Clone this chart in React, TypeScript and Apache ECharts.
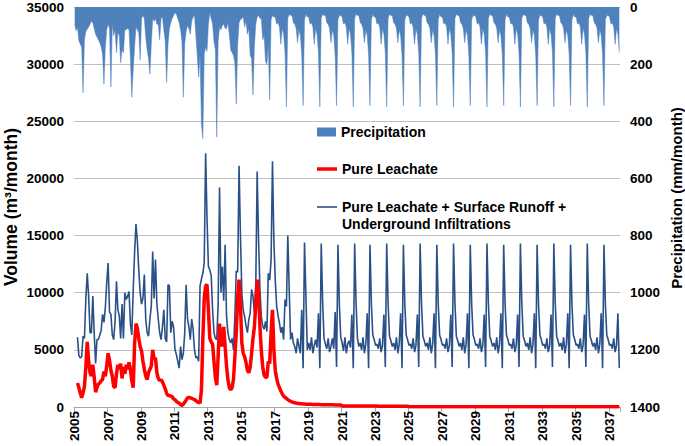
import React, { useEffect, useRef } from "react";
import * as echarts from "echarts";

// ---- categories: monthly, Jan 2005 .. Aug 2037 ----
const FIRST_YEAR = 2005;
const LAST_YEAR = 2037;
const LAST_MONTH = 8;
const months: string[] = [];
for (let y = FIRST_YEAR; y <= LAST_YEAR; y++) {
  for (let m = 1; m <= 12; m++) {
    if (y === LAST_YEAR && m > LAST_MONTH) break;
    months.push(`${y}-${m < 10 ? "0" + m : m}`);
  }
}

const TOTAL_NAME = "Pure Leachate + Surface Runoff + Underground Infiltrations";
const TOTAL_LINE1 = "Pure Leachate + Surface Runoff +";
const TOTAL_LINE2 = "Underground Infiltrations";
const LEACH_NAME = "Pure Leachate";
const PRECIP_NAME = "Precipitation";
const LEFT_TITLE = "Volume (m³/month)";
const RIGHT_TITLE = "Precipitation (mm/month)";

// ---- Precipitation (mm/month), one row per year ----
const precipitation: number[][] = [
  [60, 83, 71, 118, 130, 140, 300, 115, 85, 78, 70, 60], // 2005
  [50, 55, 75, 95, 105, 115, 125, 140, 165, 270, 140, 80], // 2006
  [60, 75, 280, 60, 100, 80, 160, 90, 100, 195, 150, 160], // 2007
  [80, 80, 75, 80, 180, 316, 220, 140, 70, 80, 90, 185], // 2008
  [40, 30, 40, 105, 150, 180, 235, 130, 40, 50, 40, 60], // 2009
  [60, 115, 40, 35, 80, 120, 264, 130, 75, 55, 40, 30], // 2010
  [20, 25, 40, 55, 80, 120, 316, 130, 85, 65, 75, 95], // 2011
  [50, 35, 30, 100, 170, 246, 165, 410, 460, 165, 140, 155], // 2012
  [60, 20, 40, 60, 120, 150, 455, 120, 70, 80, 65, 60], // 2013
  [75, 75, 55, 95, 150, 160, 170, 195, 340, 130, 55, 45], // 2014
  [40, 35, 70, 50, 95, 75, 170, 180, 308, 140, 60, 35], // 2015
  [30, 40, 40, 115, 100, 190, 200, 130, 325, 45, 30, 35], // 2016
  [35, 60, 55, 70, 130, 75, 95, 160, 350, 40, 25, 30], // 2017
  [30, 55, 60, 75, 125, 80, 100, 165, 345, 45, 25, 35], // 2018
  [35, 60, 55, 70, 130, 75, 95, 160, 350, 40, 25, 30], // 2019
  [30, 55, 60, 75, 125, 80, 100, 170, 345, 45, 30, 30], // 2020
  [35, 60, 55, 70, 130, 75, 95, 160, 350, 40, 25, 30], // 2021
  [30, 55, 60, 75, 125, 80, 100, 165, 345, 45, 25, 35], // 2022
  [35, 60, 55, 70, 130, 75, 95, 160, 350, 40, 25, 30], // 2023
  [30, 55, 60, 75, 125, 80, 100, 170, 345, 45, 30, 30], // 2024
  [35, 60, 55, 70, 130, 75, 95, 160, 350, 40, 25, 30], // 2025
  [30, 55, 60, 75, 125, 80, 100, 165, 345, 45, 25, 35], // 2026
  [35, 60, 55, 70, 130, 75, 95, 160, 350, 40, 25, 30], // 2027
  [30, 55, 60, 75, 125, 80, 100, 170, 345, 45, 30, 30], // 2028
  [35, 60, 55, 70, 130, 75, 95, 160, 350, 40, 25, 30], // 2029
  [30, 55, 60, 75, 125, 80, 100, 165, 345, 45, 25, 35], // 2030
  [35, 60, 55, 70, 130, 75, 95, 160, 350, 40, 25, 30], // 2031
  [30, 55, 60, 75, 125, 80, 100, 170, 345, 45, 30, 30], // 2032
  [35, 60, 55, 70, 130, 75, 95, 160, 350, 40, 25, 30], // 2033
  [30, 55, 60, 75, 125, 80, 100, 165, 345, 45, 25, 35], // 2034
  [35, 60, 55, 70, 130, 75, 95, 160, 350, 40, 25, 30], // 2035
  [30, 55, 60, 75, 125, 80, 100, 170, 345, 45, 30, 30], // 2036
  [35, 60, 55, 70, 130, 75, 95, 160], // 2037
];

// ---- Pure Leachate + Surface Runoff + Underground Infiltrations (m3/month) ----
const totalFlow: (number | null)[][] = [
  [null, null, 6100, 4500, 4300, 4400, 6200, 6000, 9500, 11700, 9700, 6500], // 2005
  [6500, 9700, 6500, 3800, 5900, 5900, 6300, 6700, 8100, 7400, 8700, 10900], // 2006
  [12600, 8300, 8100, 6300, 5900, 7500, 11000, 8500, 8000, 6000, 9000, 6000], // 2007
  [10000, 9400, 9700, 10100, 7300, 6300, 10200, 13500, 16000, 14500, 12000, 10000], // 2008
  [9000, 9500, 11600, 7700, 6500, 6200, 7700, 8800, 13600, 9500, 12900, 9000], // 2009
  [7700, 6500, 5900, 7000, 8500, 6000, 5700, 10700, 10600, 6500, 7500, 7000], // 2010
  [5000, 4600, 4000, 3400, 5300, 4150, 4700, 6500, 10700, 7700, 7000, 5900], // 2011
  [7700, 6800, 5000, 4300, 4400, 4000, 10600, 11200, 11700, 12600, 22200, 16500], // 2012
  [12300, 12000, 11500, 8500, 6500, 6000, 5900, 9000, 19200, 10000, 12300, 9300], // 2013
  [14200, 8000, 6500, 5900, 5600, 6000, 5000, 8000, 11900, 11800, 21100, 15000], // 2014
  [10000, 8500, 7900, 7100, 6500, 7650, 8240, 10300, 9700, 8240, 10600, 20600], // 2015
  [14600, 10300, 7900, 7070, 6800, 7500, 6600, 11700, 11100, 12900, 21500, 14600], // 2016
  [11100, 8800, 8000, 7350, 6500, 7000, 5900, 9400, 8800, 15000, 10300, 5900], // 2017
  [6500, 5600, 5300, 4700, 6000, 5300, 4700, 8500, 3400, 14400, 9700, 5000], // 2018
  [5600, 5000, 6100, 4700, 5400, 5900, 5200, 8200, 3400, 14300, 9200, 6000], // 2019
  [5500, 5100, 6000, 4800, 5300, 6000, 5100, 8300, 3500, 14200, 9000, 6100], // 2020
  [5600, 4900, 6100, 4700, 5500, 5800, 5200, 8100, 3400, 14300, 9100, 6000], // 2021
  [5300, 5600, 5000, 6100, 4700, 5500, 8200, 3400, 14200, 9000, 6300, 5900], // 2022
  [5400, 5500, 5100, 6000, 4800, 5400, 8100, 3500, 14300, 9100, 6200, 5800], // 2023
  [5300, 5600, 5000, 6100, 4700, 5500, 8200, 3400, 14200, 9000, 6300, 5900], // 2024
  [5400, 5500, 5100, 6000, 4800, 5400, 8100, 3500, 14300, 9100, 6200, 5800], // 2025
  [5300, 5600, 5000, 6100, 4700, 5500, 8200, 3400, 14200, 9000, 6300, 5900], // 2026
  [5400, 5500, 5100, 6000, 4800, 5400, 8100, 3500, 14300, 9100, 6200, 5800], // 2027
  [5300, 5600, 5000, 6100, 4700, 5500, 8200, 3400, 14200, 9000, 6300, 5900], // 2028
  [5400, 5500, 5100, 6000, 4800, 5400, 8100, 3500, 14300, 9100, 6200, 5800], // 2029
  [5300, 5600, 5000, 6100, 4700, 5500, 8200, 3400, 14200, 9000, 6300, 5900], // 2030
  [5400, 5500, 5100, 6000, 4800, 5400, 8100, 3500, 14300, 9100, 6200, 5800], // 2031
  [5300, 5600, 5000, 6100, 4700, 5500, 8200, 3400, 14200, 9000, 6300, 5900], // 2032
  [5400, 5500, 5100, 6000, 4800, 5400, 8100, 3500, 14300, 9100, 6200, 5800], // 2033
  [5300, 5600, 5000, 6100, 4700, 5500, 8200, 3400, 14200, 9000, 6300, 5900], // 2034
  [5400, 5500, 5100, 6000, 4800, 5400, 8100, 3500, 14300, 9100, 6200, 5800], // 2035
  [5300, 5600, 5000, 6100, 4700, 5500, 8200, 3400, 14200, 9000, 6300, 5900], // 2036
  [5400, 5500, 5100, 6000, 4800, 5400, 8200, 3400], // 2037
];

// ---- Pure Leachate (m3/month) ----
const pureLeachate: (number | null)[][] = [
  [null, null, 2100, 1700, 1200, 800, 1240, 1800, 3500, 5700, 4000, 3000], // 2005
  [2700, 3700, 2600, 1300, 1700, 2000, 2100, 2300, 2400, 3100, 2700, 3600], // 2006
  [4700, 4100, 3200, 2700, 1800, 1700, 2900, 3700, 3300, 3800, 2500, 3500], // 2007
  [2900, 3700, 3300, 3900, 3300, 2300, 1700, 5500, 7300, 6900, 6000, 5300], // 2008
  [4900, 4000, 3300, 2700, 2400, 3000, 3300, 3600, 5000, 4200, 4300, 3000], // 2009
  [2500, 2300, 2400, 2200, 1900, 1600, 1200, 1000, 1000, 950, 900, 700], // 2010
  [650, 500, 400, 350, 200, 150, 250, 400, 600, 800, 850, 800], // 2011
  [750, 700, 650, 550, 450, 400, 350, 1500, 6000, 9500, 10600, 10700], // 2012
  [8500, 6000, 5700, 5500, 4000, 2600, 1900, 4500, 7300, 5700, 5300, 7000], // 2013
  [5300, 3600, 2400, 1700, 1500, 1700, 2400, 4400, 6500, 9600, 11150, 9000], // 2014
  [5600, 4700, 4400, 3900, 3200, 3000, 3500, 4700, 6000, 7000, 9000, 11150], // 2015
  [10000, 7000, 4900, 3500, 2800, 2600, 2600, 4000, 3800, 6500, 8500, 5000], // 2016
  [3200, 2500, 2000, 1700, 1400, 1150, 950, 850, 750, 650, 560, 500], // 2017
  [450, 400, 370, 340, 320, 300, 290, 280, 270, 260, 250, 245], // 2018
  [240, 235, 230, 225, 220, 220, 215, 210, 210, 205, 205, 200], // 2019
  [200, 200, 195, 195, 190, 190, 190, 185, 185, 180, 180, 180], // 2020
  [95, 95, 95, 95, 90, 90, 90, 90, 90, 90, 85, 85], // 2021
  [85, 85, 85, 85, 85, 80, 80, 80, 80, 80, 80, 80], // 2022
  [80, 80, 75, 75, 75, 75, 75, 75, 75, 75, 70, 70], // 2023
  [70, 70, 70, 70, 70, 70, 70, 70, 65, 65, 65, 65], // 2024
  [25, 25, 25, 25, 25, 25, 25, 25, 25, 25, 25, 25], // 2025
  [25, 25, 25, 25, 25, 25, 25, 25, 25, 25, 25, 25], // 2026
  [25, 25, 25, 25, 25, 25, 25, 25, 25, 25, 25, 25], // 2027
  [20, 20, 20, 20, 20, 20, 20, 20, 20, 20, 20, 20], // 2028
  [20, 20, 20, 20, 20, 20, 20, 20, 20, 20, 20, 20], // 2029
  [20, 20, 20, 20, 20, 20, 20, 20, 20, 20, 20, 20], // 2030
  [20, 20, 20, 20, 20, 20, 20, 20, 20, 20, 20, 20], // 2031
  [20, 20, 20, 20, 20, 20, 20, 20, 20, 20, 20, 20], // 2032
  [20, 20, 20, 20, 20, 20, 20, 20, 20, 20, 20, 20], // 2033
  [20, 20, 20, 20, 20, 20, 20, 20, 20, 20, 20, 20], // 2034
  [20, 20, 20, 20, 20, 20, 20, 20, 20, 20, 20, 20], // 2035
  [20, 20, 20, 20, 20, 20, 20, 20, 20, 20, 20, 20], // 2036
  [20, 20, 20, 20, 20, 20, 20, 20], // 2037
];

const FONT = "'Liberation Sans', Arial, Helvetica, sans-serif";
const LABEL_STYLE = { fontFamily: FONT, fontWeight: "bold" as const, fontSize: 13.5, color: "#000000" };
const LEGEND_TEXT = { fontFamily: FONT, fontWeight: "bold" as const, fontSize: 14, color: "#000000" };
const TOTAL_COLOR = "#2a5088";
const LEACH_COLOR = "#ff0000";
const PRECIP_COLOR = "#4f81bd";

const flat = <T,>(rows: T[][]): T[] => rows.reduce((acc: T[], r) => acc.concat(r), []);
const plain = (v: number) => String(v);

export default function App() {
  const ref = useRef<HTMLDivElement | null>(null);

  useEffect(() => {
    document.body.style.margin = "0";
    if (!ref.current) return;
    const chart = echarts.init(ref.current, undefined, { renderer: "svg" });

    const titleStyle = (text: string, size: number) => ({
      text,
      font: `bold ${size}px ${FONT}`,
      fill: "#000000",
      align: "center",
      verticalAlign: "middle",
      textAlign: "center",
      textVerticalAlign: "middle",
    });

    const option: any = {
      animation: false,
      textStyle: { fontFamily: FONT },
      grid: { left: 74, right: 65, top: 7, bottom: 39, containLabel: false, outerBoundsMode: "none" },
      legend: [
        {
          data: [PRECIP_NAME],
          left: 317,
          top: 125,
          padding: 0,
          icon: "rect",
          itemWidth: 19,
          itemHeight: 9,
          textStyle: LEGEND_TEXT,
          selectedMode: false,
        },
        {
          data: [LEACH_NAME],
          left: 317,
          top: 162,
          padding: 0,
          icon: "rect",
          itemWidth: 20,
          itemHeight: 3.5,
          textStyle: LEGEND_TEXT,
          selectedMode: false,
        },
        {
          data: [TOTAL_NAME],
          left: 317,
          top: 200,
          padding: 0,
          icon: "rect",
          itemWidth: 20,
          itemHeight: 1.6,
          formatter: () => TOTAL_LINE1,
          textStyle: LEGEND_TEXT,
          selectedMode: false,
        },
      ],
      graphic: [
        {
          type: "text",
          left: 342,
          top: 217,
          silent: true,
          style: {
            text: TOTAL_LINE2,
            font: `bold 14px ${FONT}`,
            fill: "#000000",
          },
        },
        {
          type: "text",
          x: 11,
          y: 207,
          rotation: Math.PI / 2,
          silent: true,
          style: titleStyle(LEFT_TITLE, 17.5),
        },
        {
          type: "text",
          x: 676,
          y: 198,
          rotation: Math.PI / 2,
          silent: true,
          style: titleStyle(RIGHT_TITLE, 15),
        },
      ],
      xAxis: {
        type: "category",
        data: months,
        boundaryGap: true,
        axisLine: { show: true, lineStyle: { color: "#a6a6a6", width: 1 } },
        axisTick: {
          show: true,
          interval: (i: number) => i % 24 === 0,
          length: 5,
          lineStyle: { color: "#a6a6a6" },
        },
        axisLabel: {
          ...LABEL_STYLE,
          interval: (i: number) => i % 24 === 0,
          rotate: 90,
          margin: 4,
          formatter: (v: string) => v.slice(0, 4),
        },
        splitLine: { show: false },
      },
      yAxis: [
        {
          type: "value",
          min: 0,
          max: 35000,
          interval: 5000,
          position: "left",
          axisLine: { show: false },
          axisTick: { show: false },
          axisLabel: { ...LABEL_STYLE, margin: 10, formatter: plain },
          splitLine: { show: true, lineStyle: { color: "#bfbfbf", width: 1 } },
        },
        {
          type: "value",
          min: 0,
          max: 1400,
          interval: 200,
          inverse: true,
          position: "right",
          axisLine: { show: false },
          axisTick: { show: false },
          axisLabel: { ...LABEL_STYLE, margin: 10, formatter: plain },
          splitLine: { show: false },
        },
      ],
      series: [
        {
          name: PRECIP_NAME,
          type: "line",
          yAxisIndex: 1,
          data: flat(precipitation),
          symbol: "none",
          showSymbol: false,
          lineStyle: { width: 0.5, color: PRECIP_COLOR },
          itemStyle: { color: PRECIP_COLOR },
          areaStyle: { color: PRECIP_COLOR, opacity: 1 },
          z: 1,
        },
        {
          name: TOTAL_NAME,
          type: "line",
          yAxisIndex: 0,
          data: flat(totalFlow),
          symbol: "none",
          showSymbol: false,
          lineStyle: { width: 1.6, color: TOTAL_COLOR },
          itemStyle: { color: TOTAL_COLOR },
          z: 2,
        },
        {
          name: LEACH_NAME,
          type: "line",
          yAxisIndex: 0,
          data: flat(pureLeachate),
          symbol: "none",
          showSymbol: false,
          lineStyle: { width: 3.5, color: LEACH_COLOR },
          itemStyle: { color: LEACH_COLOR },
          z: 3,
        },
      ],
    };

    chart.setOption(option);
    return () => chart.dispose();
  }, []);

  return <div ref={ref} style={{ width: 685, height: 446 }} />;
}
